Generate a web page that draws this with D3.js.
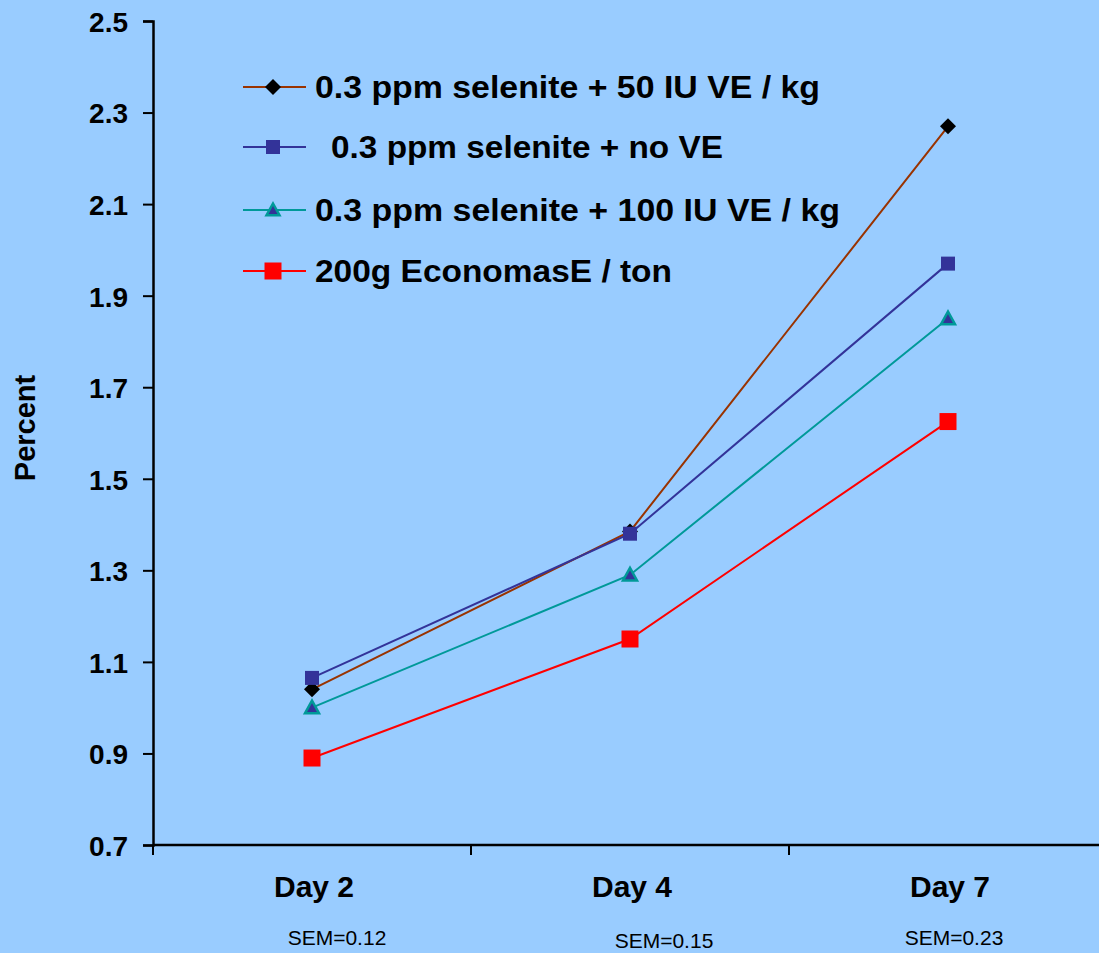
<!DOCTYPE html>
<html>
<head>
<meta charset="utf-8">
<script src="https://cdn.jsdelivr.net/npm/d3@7"></script>
<style>
  html, body { margin: 0; padding: 0; background: #99CCFF; }
  svg { display: block; font-family: "Liberation Sans", Arial, sans-serif; }
</style>
</head>
<body>
<svg id="chart" width="1099" height="953"></svg>
<script>
// Categories and tick labels
const days = ["Day 2", "Day 4", "Day 7"];
const semLabels = ["SEM=0.12", "SEM=0.15", "SEM=0.23"];
const yTicks = [0.7, 0.9, 1.1, 1.3, 1.5, 1.7, 1.9, 2.1, 2.3, 2.5];

// Series values (percent)
const seriesNames = [
  "0.3 ppm selenite + 50 IU VE / kg",
  " 0.3 ppm selenite + no VE",
  "0.3 ppm selenite + 100 IU VE / kg",
  "200g EconomasE / ton"
];
const se50VE = [1.04, 1.385, 2.27];
const seNoVE = [1.065, 1.38, 1.97];
const se100VE = [1.0, 1.29, 1.85];
const economasE = [0.89, 1.15, 1.625];

const series = [
  { name: seriesNames[0], values: se50VE,   line: "#993300", shape: "diamond",  fill: "#000000", stroke: "none",    size: 16, legendSize: 16, textW: 505 },
  { name: seriesNames[1], values: seNoVE,   line: "#333399", shape: "square",   fill: "#333399", stroke: "none",    size: 14, legendSize: 14, textW: 392 },
  { name: seriesNames[2], values: se100VE,  line: "#009999", shape: "triangle", fill: "#333399", stroke: "#009999", size: 14, legendSize: 13, textW: 525 },
  { name: seriesNames[3], values: economasE,line: "#FF0000", shape: "square",   fill: "#FF0000", stroke: "none",    size: 17, legendSize: 17, textW: 357 }
];

const svg = d3.select("#chart");
const plotLeft = 153, plotTop = 21, plotBottom = 845;

const x = d3.scaleBand().domain(days).range([plotLeft, plotLeft + 3 * 318]).padding(0);
const y = d3.scaleLinear().domain([0.7, 2.5]).range([plotBottom, plotTop]);

// Y axis
const yAxis = d3.axisLeft(y).tickValues(yTicks).tickFormat(d3.format(".1f")).tickSize(10).tickPadding(15);
const gy = svg.append("g").attr("transform", `translate(${plotLeft},0)`).call(yAxis);
gy.attr("font-family", null);
gy.select(".domain").attr("stroke", "#000").attr("stroke-width", 2.5);
gy.selectAll(".tick line").attr("stroke", "#000").attr("stroke-width", 2);
gy.selectAll(".tick text").attr("fill", "#000").style("font-size", "28px").style("font-weight", "bold").attr("dy", "0.37em");

// X axis with ticks on band boundaries
svg.append("line").attr("x1", plotLeft).attr("x2", 1099).attr("y1", plotBottom).attr("y2", plotBottom)
  .attr("stroke", "#000").attr("stroke-width", 2.5);
const boundaries = days.map(d => x(d)).concat([x(days[2]) + x.bandwidth()]);
svg.selectAll(".xtick").data(boundaries).join("line").attr("class", "xtick")
  .attr("x1", d => d).attr("x2", d => d).attr("y1", plotBottom).attr("y2", plotBottom + 10)
  .attr("stroke", "#000").attr("stroke-width", 2);

svg.selectAll(".xlabel").data(days).join("text").attr("class", "xlabel")
  .attr("x", d => x(d) + x.bandwidth() / 2 + 2).attr("y", 897)
  .attr("text-anchor", "middle").style("font-size", "30px").style("font-weight", "bold")
  .text(d => d);

const semY = [945, 948, 945];
const semDx = [25, 34, 6];
svg.selectAll(".sem").data(semLabels).join("text").attr("class", "sem")
  .attr("x", (d, i) => x(days[i]) + x.bandwidth() / 2 + semDx[i]).attr("y", (d, i) => semY[i])
  .attr("text-anchor", "middle").style("font-size", "21px")
  .text(d => d);

// Y axis title
svg.append("text").attr("transform", "translate(35,428) rotate(-90)")
  .attr("text-anchor", "middle").style("font-size", "29px").style("font-weight", "bold")
  .text("Percent");

// Marker drawing
function symbolPath(shape, size) {
  const h = size / 2;
  if (shape === "diamond") return `M0,${-h}L${h},0L0,${h}L${-h},0Z`;
  if (shape === "square") return `M${-h},${-h}H${h}V${h}H${-h}Z`;
  if (shape === "triangle") return `M0,${-h}L${h},${h * 0.8}L${-h},${h * 0.8}Z`;
}

const line = d3.line().x((d, i) => x(days[i]) + x.bandwidth() / 2).y(d => y(d));

series.forEach(s => {
  svg.append("path").datum(s.values).attr("d", line)
    .attr("fill", "none").attr("stroke", s.line).attr("stroke-width", 2);
});
series.forEach(s => {
  svg.selectAll(null).data(s.values).join("path")
    .attr("transform", (d, i) => `translate(${x(days[i]) + x.bandwidth() / 2},${y(d)})`)
    .attr("d", symbolPath(s.shape, s.size))
    .attr("fill", s.fill)
    .attr("stroke", s.stroke).attr("stroke-width", s.stroke === "none" ? 0 : 2.5);
});

// Legend
const legendRows = [87, 147, 210, 271];
const lg = svg.append("g");
series.forEach((s, i) => {
  const g = lg.append("g").attr("transform", `translate(0,${legendRows[i]})`);
  g.append("line").attr("x1", 243).attr("x2", 306).attr("y1", 0).attr("y2", 0)
    .attr("stroke", s.line).attr("stroke-width", 2);
  g.append("path").attr("transform", "translate(273,0)").attr("d", symbolPath(s.shape, s.legendSize))
    .attr("fill", s.fill).attr("stroke", s.stroke).attr("stroke-width", s.stroke === "none" ? 0 : 2.5);
  const isIndented = s.name.startsWith(" ");
  g.append("text").attr("x", isIndented ? 331 : 315).attr("y", 11)
    .attr("textLength", s.textW).attr("lengthAdjust", "spacingAndGlyphs")
    .style("font-size", "32px").style("font-weight", "bold")
    .text(s.name.trim());
});
</script>
</body>
</html>
